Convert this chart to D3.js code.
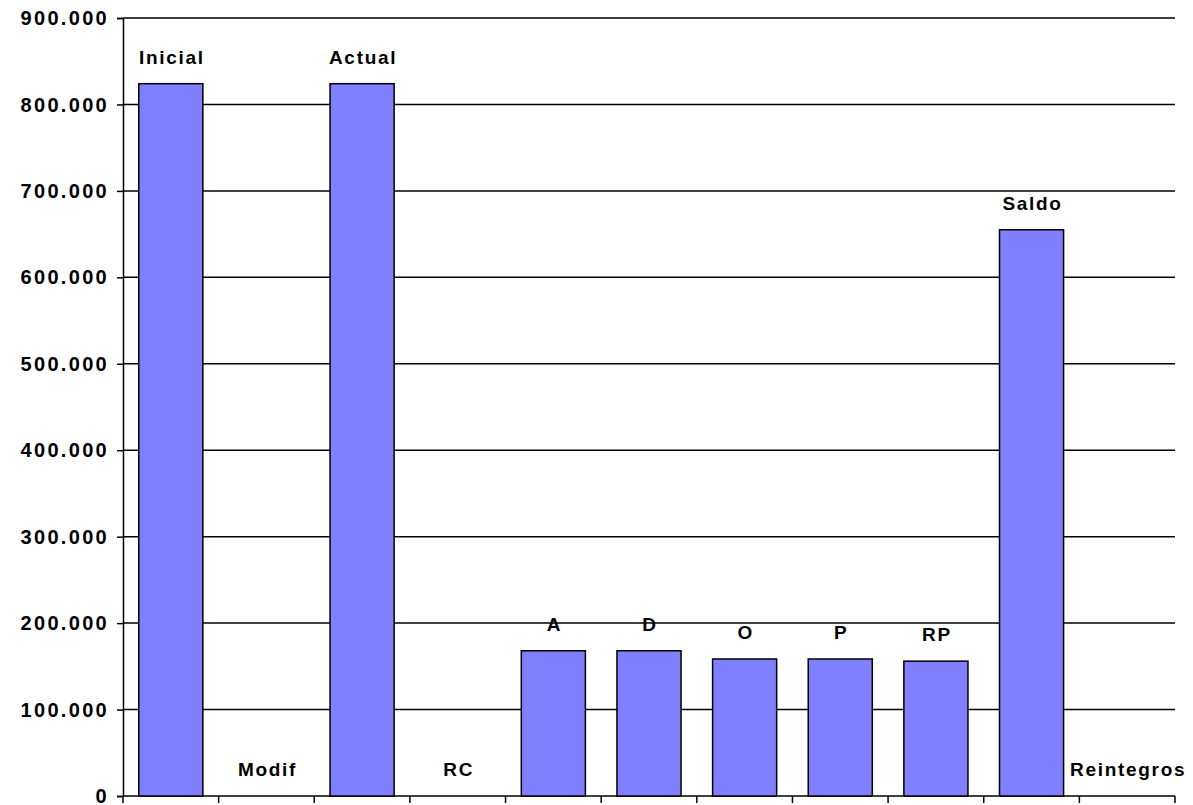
<!DOCTYPE html>
<html>
<head>
<meta charset="utf-8">
<script src="https://cdn.jsdelivr.net/npm/d3@7"></script>
<style>
  body { margin: 0; background: #fff; }
  #container { width: 1193px; height: 805px; }
  text { font-family: "Liberation Sans", Arial, sans-serif; font-weight: bold; fill: #000; }
</style>
</head>
<body>
<div id="container"></div>
<script>
// data
const categories = ["Inicial", "Modif", "Actual", "RC", "A", "D", "O", "P", "RP", "Saldo", "Reintegros"];
const values = [824000, 0, 824000, 0, 168000, 168000, 158500, 158500, 156000, 655000, 0];
const yTicks = [0, 100000, 200000, 300000, 400000, 500000, 600000, 700000, 800000, 900000];

const W = 1193, H = 805;
const margin = { top: 18, right: 18, bottom: 9, left: 123 };
const width = W - margin.left - margin.right;
const height = H - margin.top - margin.bottom;

const locale = d3.formatLocale({ decimal: ",", thousands: ".", grouping: [3], currency: ["", ""] });
const fmt = locale.format(",");

const svg = d3.select("#container").append("svg")
    .attr("width", W).attr("height", H)
    .append("g").attr("transform", `translate(${margin.left},${margin.top})`);

const x = d3.scaleBand().domain(categories).range([0, width]).padding(0);
const y = d3.scaleLinear().domain([0, 900000]).range([height, 0]);

// gridlines
svg.append("g").selectAll("line").data(yTicks.filter(d => d > 0)).enter().append("line")
    .attr("x1", 0).attr("x2", width)
    .attr("y1", d => y(d)).attr("y2", d => y(d))
    .attr("stroke", "#000").attr("stroke-width", 1.5);

// y axis
const yAxis = svg.append("g")
    .call(d3.axisLeft(y).tickValues(yTicks).tickFormat(fmt).tickSize(6).tickPadding(8));
yAxis.select(".domain").attr("stroke", "#000").attr("stroke-width", 1.5);
yAxis.selectAll(".tick line").attr("stroke", "#000").attr("stroke-width", 1.5);
yAxis.selectAll(".tick text")
    .style("font-size", "20px").style("letter-spacing", "2.3px")
    .attr("dy", "0.33em");

// x axis: ticks at band boundaries
const xAxis = svg.append("g").attr("transform", `translate(0,${height})`);
xAxis.append("line").attr("x1", 0).attr("x2", width)
    .attr("stroke", "#000").attr("stroke-width", 1.5);
const bounds = categories.map(c => x(c)).concat([width]);
xAxis.selectAll("line.tk").data(bounds).enter().append("line")
    .attr("class", "tk")
    .attr("x1", d => d).attr("x2", d => d).attr("y1", 0).attr("y2", 7)
    .attr("stroke", "#000").attr("stroke-width", 1.5);

// bars
const barW = x.bandwidth() * 0.67;
svg.selectAll("rect.bar").data(values).enter().append("rect")
    .attr("class", "bar")
    .attr("x", (d, i) => x(categories[i]) + (x.bandwidth() - barW) / 2)
    .attr("y", d => y(d))
    .attr("width", barW)
    .attr("height", d => height - y(d))
    .attr("fill", "#8080FF").attr("stroke", "#000").attr("stroke-width", 1.5)
    .style("display", d => d > 0 ? null : "none");

// labels
svg.selectAll("text.lbl").data(values).enter().append("text")
    .attr("class", "lbl")
    .attr("x", (d, i) => x(categories[i]) + x.bandwidth() / 2 + 1)
    .attr("y", d => y(d) - 20)
    .attr("text-anchor", "middle")
    .style("font-size", "19px").style("letter-spacing", "1.7px")
    .text((d, i) => categories[i]);
</script>
</body>
</html>
